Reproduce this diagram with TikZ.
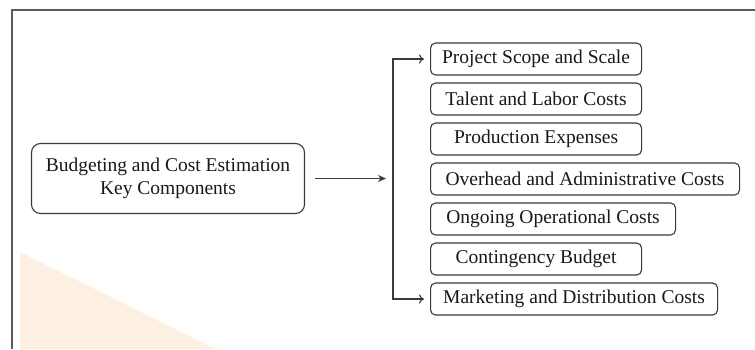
\documentclass[tikz,border=0pt]{standalone}
\usepackage{fontspec}
\setmainfont{Liberation Serif}
\usetikzlibrary{arrows.meta}
\definecolor{linegray}{HTML}{3A3A3A}
\definecolor{framegray}{HTML}{5A5A5A}
\definecolor{peach}{HTML}{FDEBDA}
\tikzset{
  item/.style={draw=linegray, line width=1.1pt, rounded corners=5pt, minimum height=32pt,
    inner sep=0pt, font=\fontsize{19.5}{23}\selectfont, text=black!90, anchor=west},
  mainbox/.style={draw=linegray, line width=1.1pt, rounded corners=9pt, minimum width=273pt,
    minimum height=70pt, inner sep=0pt, align=center, font=\fontsize{19.5}{23.5}\selectfont, text=black!90},
  conn/.style={draw=linegray, line width=1.1pt},
}
\begin{document}
\begin{tikzpicture}[x=1pt,y=-1pt]
\useasboundingbox (0,0) rectangle (755,349);
\fill[white] (0,0) rectangle (755,349);
% faint watermark
\fill[peach, opacity=0.8] (20,252) -- (215,349) -- (20,349) -- cycle;
% frame
\draw[framegray, line width=2pt] (11.5,349) -- (11.5,9.5) -- (755,9.5);
% main node
\node[mainbox] (main) at (168,178.5) {Budgeting and Cost Estimation\\Key Components};
% items
\node[item, minimum width=211pt] (i1) at (430,59) {Project Scope and Scale};
\node[item, minimum width=211pt] (i2) at (430,99) {Talent and Labor Costs};
\node[item, minimum width=211pt] (i3) at (430,139) {Production Expenses};
\node[item, minimum width=309pt] (i4) at (430,179) {Overhead and Administrative Costs};
\node[item, minimum width=245pt] (i5) at (430,219) {Ongoing Operational Costs};
\node[item, minimum width=211pt] (i6) at (430,259) {Contingency Budget};
\node[item, minimum width=287pt] (i7) at (430,299) {Marketing and Distribution Costs};
% connectors
\coordinate (ms) at ([xshift=10pt]main.east);
\coordinate (hubx) at (386,179);
\draw[conn, -{Stealth[length=8pt,width=7pt]}] (ms) -- (ms -| hubx);
\coordinate (vt) at (393,59);
\coordinate (vb) at (393,299);
\draw[conn, -{To[length=5pt,width=9pt]}] (vb) -- (vt) -- ([xshift=-6pt]i1.west);
\draw[conn, -{To[length=5pt,width=9pt]}] (vt) -- (vb) -- ([xshift=-6pt]i7.west);
\end{tikzpicture}
\end{document}
